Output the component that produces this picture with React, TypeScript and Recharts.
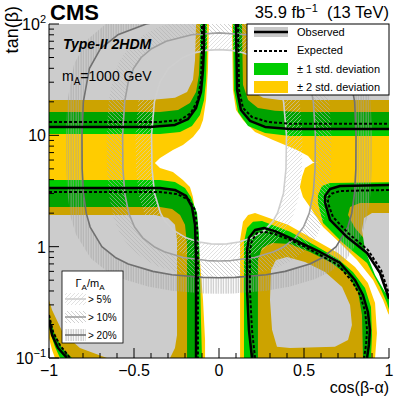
import React from 'react';
import { ComposedChart, Area, Line, XAxis, YAxis } from 'recharts';

const FONT = '"Liberation Sans", Arial, Helvetica, sans-serif';
const YELLOW = '#ffcc00';
const GREEN = '#00cc00';
const WHITE = '#ffffff';

// ---------- axes ----------
const xTicks = [-1, -0.9, -0.8, -0.7, -0.6, -0.5, -0.4, -0.3, -0.2, -0.1, 0, 0.1, 0.2, 0.3, 0.4, 0.5, 0.6, 0.7, 0.8, 0.9, 1];
const xTickLabels = [
  { v: -1, t: '\u22121' },
  { v: -0.5, t: '\u22120.5' },
  { v: 0, t: '0' },
  { v: 0.5, t: '0.5' },
  { v: 1, t: '1' },
];
const yTicks = [0.1, 0.2, 0.3, 0.4, 0.5, 0.6, 0.7, 0.8, 0.9, 1, 2, 3, 4, 5, 6, 7, 8, 9, 10, 20, 30, 40, 50, 60, 70, 80, 90, 100];
const yTickLabels = [
  { v: 0.1, base: '10', exp: '\u22121' },
  { v: 1, base: '1', exp: '' },
  { v: 10, base: '10', exp: '' },
  { v: 100, base: '10', exp: '2' },
];

// ---------- expected +-2 sigma band (outer edges, yellow) ----------
const ulYellowOuter = [[-1.2, 5.65], [-0.377, 5.65], [-0.347, 6.27], [-0.271, 7.39], [-0.212, 8.2], [-0.153, 9.68], [-0.112, 11.6], [-0.094, 13.7], [-0.076, 20.8], [-0.065, 38.7], [-0.059, 100], [-0.059, 300], [-1.2, 300], [-1.2, 5.65]];
const llYellowOuter = [[-1.2, 6.01], [-0.377, 5.65], [-0.347, 5.09], [-0.271, 4.69], [-0.212, 3.97], [-0.171, 3.44], [-0.153, 2.8], [-0.141, 2.01], [-0.129, 1.41], [-0.112, 0.759], [-0.094, 0.332], [-0.082, 0.145], [-0.082, 0.05], [-0.965, 0.05], [-0.965, 0.1], [-0.982, 0.118], [-1, 0.151], [-1.2, 0.151], [-1.2, 6.01]];
const urYellowOuter = [[0.076, 300], [0.076, 100], [0.082, 25.6], [0.1, 16.9], [0.141, 13.7], [0.212, 10.7], [0.318, 9.09], [0.459, 7.39], [0.524, 6.53], [0.553, 5.77], [0.653, 5.42], [1.2, 5.42], [1.2, 300], [0.076, 300]];
const lrYellowOuter = [[1.2, 6.01], [0.594, 5.77], [0.553, 5.65], [0.506, 5.09], [0.488, 4.23], [0.476, 3.44], [0.494, 2.8], [0.535, 2.27], [0.612, 1.5], [0.712, 1.08], [0.812, 0.759], [0.906, 0.502], [0.965, 0.332], [0.994, 0.254], [1.018, 0.219], [1.2, 0.145], [1.2, 6.01]];
const loopYellowOuter = [[0.124, 0.05], [0.124, 1.15], [0.141, 1.67], [0.171, 1.93], [0.212, 2.01], [0.406, 1.57], [0.565, 1.15], [0.7, 0.877], [0.8, 0.657], [0.876, 0.472], [0.918, 0.312], [0.929, 0.168], [0.918, 0.1], [0.918, 0.05], [0.124, 0.05]];

// ---------- expected +-1 sigma band (outer edges, green) ----------
const ulGreenOuter = [[-1.2, 10.3], [-0.347, 10.3], [-0.229, 10.7], [-0.159, 12.1], [-0.112, 15.2], [-0.088, 20.8], [-0.076, 31.5], [-0.071, 58.5], [-0.071, 300], [-1.2, 300], [-1.2, 10.3]];
const llGreenOuter = [[-1.2, 3.97], [-0.347, 3.97], [-0.259, 3.81], [-0.2, 3.37], [-0.165, 2.8], [-0.129, 2.01], [-0.118, 1.27], [-0.112, 0.618], [-0.106, 0.219], [-0.1, 0.1], [-0.1, 0.05], [-0.935, 0.05], [-0.935, 0.1], [-0.965, 0.126], [-0.988, 0.161], [-1, 0.19], [-1.2, 0.19], [-1.2, 3.97]];
const urGreenOuter = [[0.082, 300], [0.082, 100], [0.088, 25.6], [0.112, 16.2], [0.171, 12.1], [0.271, 10.5], [0.418, 9.88], [1.2, 9.88], [1.2, 300], [0.082, 300]];
const lrGreenOuter = [[1.2, 3.81], [0.653, 3.73], [0.606, 3.51], [0.582, 2.91], [0.582, 2.47], [0.612, 1.63], [0.729, 1.08], [0.871, 0.714], [0.947, 0.435], [0.988, 0.312], [1.006, 0.254], [1.2, 0.219], [1.2, 3.81]];
const loopGreenOuter = [[0.147, 0.05], [0.147, 1.1], [0.165, 1.47], [0.2, 1.67], [0.253, 1.7], [0.418, 1.36], [0.571, 1.015], [0.7, 0.775], [0.788, 0.593], [0.859, 0.426], [0.894, 0.287], [0.9, 0.161], [0.894, 0.1], [0.894, 0.05], [0.147, 0.05]];

// ---------- expected +-1 sigma band (inner edges) ----------
const ulGreenInner = [[-1.2, 16.2], [-0.347, 16.2], [-0.241, 16.9], [-0.171, 19.5], [-0.135, 24.5], [-0.118, 34.9], [-0.112, 58.5], [-0.112, 300], [-1.2, 300], [-1.2, 16.2]];
const llGreenInner = [[-1.2, 2.27], [-0.347, 2.27], [-0.276, 2.18], [-0.229, 1.93], [-0.2, 1.57], [-0.188, 1.04], [-0.188, 0.05], [-0.865, 0.05], [-0.865, 0.1], [-0.924, 0.123], [-0.965, 0.161], [-0.988, 0.21], [-1, 0.238], [-1.2, 0.238], [-1.2, 2.27]];
const urGreenInner = [[0.135, 300], [0.135, 100], [0.141, 28.4], [0.171, 20.8], [0.229, 17.6], [0.329, 16.6], [0.476, 16.2], [1.2, 16.2], [1.2, 300], [0.135, 300]];
const lrGreenInner = [[1.2, 2.47], [0.829, 2.47], [0.771, 2.27], [0.759, 1.93], [0.8, 1.47], [0.876, 1.08], [0.935, 0.759], [0.976, 0.502], [1, 0.346], [1.2, 0.27], [1.2, 2.47]];
const loopGreenInner = [[0.229, 0.05], [0.229, 0.759], [0.253, 0.974], [0.312, 1.08], [0.418, 1.057], [0.535, 0.896], [0.653, 0.728], [0.759, 0.557], [0.818, 0.392], [0.841, 0.243], [0.847, 0.1], [0.847, 0.05], [0.229, 0.05]];

// ---------- expected +-2 sigma band (inner edges) ----------
const ulYellowInner = [[-1.2, 20.8], [-0.406, 20.8], [-0.259, 21.7], [-0.188, 24.5], [-0.153, 31.5], [-0.141, 47.6], [-0.135, 100], [-0.135, 300], [-1.2, 300], [-1.2, 20.8]];
const llYellowInner = [[-1.2, 1.93], [-0.376, 1.93], [-0.3, 1.81], [-0.259, 1.57], [-0.247, 1.15], [-0.247, 0.161], [-0.259, 0.123], [-0.288, 0.1], [-0.288, 0.05], [-0.659, 0.05], [-0.659, 0.1], [-0.818, 0.123], [-0.918, 0.168], [-0.982, 0.27], [-1, 0.332], [-1.2, 0.332], [-1.2, 1.93]];
const urYellowInner = [[0.165, 300], [0.165, 100], [0.171, 31.5], [0.2, 24.5], [0.259, 21.7], [0.359, 20.8], [1.2, 20.8], [1.2, 300], [0.165, 300]];
const lrYellowInner = [[1.2, 2.01], [0.9, 2.01], [0.853, 1.81], [0.841, 1.41], [0.859, 0.934], [0.918, 0.557], [0.976, 0.392], [1.006, 0.353], [1.2, 0.332], [1.2, 2.01]];
const loopYellowInner = [[0.341, 0.126], [0.312, 0.179], [0.3, 0.332], [0.306, 0.618], [0.335, 0.759], [0.4, 0.807], [0.506, 0.728], [0.624, 0.593], [0.724, 0.435], [0.771, 0.299], [0.782, 0.198], [0.759, 0.145], [0.682, 0.126], [0.418, 0.123], [0.341, 0.126]];

// ---------- observed excluded regions ----------
const ulObsRegion = [[-1.2, 11.9], [-0.406, 11.9], [-0.259, 12.4], [-0.182, 14.0], [-0.135, 17.6], [-0.106, 24.5], [-0.094, 38.7], [-0.088, 64.9], [-0.088, 300], [-1.2, 300], [-1.2, 11.9]];
const llObsRegion = [[-1.2, 3.37], [-0.347, 3.37], [-0.259, 3.23], [-0.194, 2.86], [-0.159, 2.27], [-0.141, 1.57], [-0.135, 0.759], [-0.135, 0.05], [-0.894, 0.05], [-0.894, 0.1], [-0.947, 0.123], [-0.982, 0.161], [-1, 0.219], [-1.2, 0.219], [-1.2, 3.37]];
const urObsRegion = [[0.1, 300], [0.1, 100], [0.106, 25.6], [0.129, 16.9], [0.182, 13.5], [0.271, 11.9], [0.418, 11.4], [1.2, 11.4], [1.2, 300], [0.1, 300]];
const lrObsRegion = [[1.2, 3.58], [0.712, 3.51], [0.653, 3.3], [0.624, 2.86], [0.624, 2.47], [0.653, 1.74], [0.753, 1.22], [0.871, 0.877], [0.947, 0.58], [0.988, 0.384], [1.006, 0.312], [1.2, 0.27], [1.2, 3.58]];
const loopObsRegion = [[0.194, 0.05], [0.194, 0.1], [0.176, 0.179], [0.165, 0.408], [0.165, 0.934], [0.176, 1.2], [0.212, 1.41], [0.265, 1.47], [0.329, 1.38], [0.418, 1.2], [0.506, 1.036], [0.594, 0.896], [0.712, 0.714], [0.8, 0.502], [0.847, 0.368], [0.876, 0.259], [0.888, 0.179], [0.882, 0.131], [0.871, 0.1], [0.871, 0.05], [0.194, 0.05]];

// ---------- observed contours ----------
const ulObsLine = [[-1, 11.9], [-0.406, 11.9], [-0.259, 12.4], [-0.182, 14.0], [-0.135, 17.6], [-0.106, 24.5], [-0.094, 38.7], [-0.088, 64.9], [-0.088, 100]];
const llObsLine = [[-1, 3.37], [-0.347, 3.37], [-0.259, 3.23], [-0.194, 2.86], [-0.159, 2.27], [-0.141, 1.57], [-0.135, 0.759], [-0.135, 0.1]];
const llObsCorner = [[-1, 0.219], [-0.982, 0.161], [-0.947, 0.123], [-0.894, 0.1]];
const urObsLine = [[0.1, 100], [0.106, 25.6], [0.129, 16.9], [0.182, 13.5], [0.271, 11.9], [0.418, 11.4], [1, 11.4]];
const lrObsLine = [[1, 3.58], [0.712, 3.51], [0.653, 3.3], [0.624, 2.86], [0.624, 2.47], [0.653, 1.74], [0.753, 1.22], [0.871, 0.877], [0.947, 0.58], [0.988, 0.384], [1, 0.34]];
const loopObsLine = [[0.194, 0.1], [0.176, 0.179], [0.165, 0.408], [0.165, 0.934], [0.176, 1.2], [0.212, 1.41], [0.265, 1.47], [0.329, 1.38], [0.418, 1.2], [0.506, 1.036], [0.594, 0.896], [0.712, 0.714], [0.8, 0.502], [0.847, 0.368], [0.876, 0.259], [0.888, 0.179], [0.882, 0.131], [0.871, 0.1]];

// ---------- expected contours ----------
const ulExpLine = [[-1, 13.2], [-0.347, 13.2], [-0.229, 13.7], [-0.165, 15.9], [-0.124, 20.8], [-0.106, 31.5], [-0.1, 58.5], [-0.1, 100]];
const llExpLine = [[-1, 3.1], [-0.347, 3.1], [-0.247, 2.97], [-0.176, 2.63], [-0.141, 2.14], [-0.129, 1.5], [-0.124, 0.759], [-0.124, 0.1]];
const llExpCorner = [[-1, 0.243], [-0.976, 0.171], [-0.935, 0.13], [-0.876, 0.1]];
const urExpLine = [[0.112, 100], [0.118, 25.6], [0.141, 17.6], [0.194, 14.6], [0.288, 13.2], [0.418, 12.7], [1, 12.7]];
const lrExpLine = [[1, 3.23], [0.712, 3.16], [0.665, 3.0], [0.641, 2.74], [0.641, 2.47], [0.67, 1.85], [0.765, 1.3], [0.876, 0.934], [0.953, 0.618], [0.994, 0.4], [1, 0.37]];
const loopExpLine = [[0.212, 0.1], [0.194, 0.179], [0.182, 0.408], [0.182, 0.934], [0.194, 1.14], [0.224, 1.33], [0.265, 1.36], [0.329, 1.3], [0.418, 1.15], [0.506, 0.994], [0.594, 0.842], [0.7, 0.685], [0.782, 0.492], [0.829, 0.368], [0.859, 0.265], [0.871, 0.179], [0.865, 0.131], [0.853, 0.1]];

// ---------- Gamma_A / m_A contours (5%, 10%, 20%) ----------
const width5 = [[0, 1.053], [0.047, 1.06], [0.117, 1.1], [0.194, 1.2], [0.267, 1.4], [0.318, 1.7], [0.344, 2], [0.379, 3], [0.394, 5], [0.397, 10], [0.38, 20], [0.348, 30], [0.297, 40], [0.214, 50], [0.145, 55], [0.072, 58], [0, 58.9], [-0.072, 58], [-0.145, 55], [-0.214, 50], [-0.297, 40], [-0.348, 30], [-0.38, 20], [-0.397, 10], [-0.394, 5], [-0.379, 3], [-0.344, 2], [-0.318, 1.7], [-0.267, 1.4], [-0.194, 1.2], [-0.117, 1.1], [-0.047, 1.06], [0, 1.053]];
const width10 = [[0, 0.744], [0.07, 0.75], [0.21, 0.8], [0.322, 0.9], [0.382, 1], [0.449, 1.2], [0.497, 1.5], [0.531, 2], [0.554, 3], [0.565, 5], [0.567, 10], [0.555, 20], [0.534, 30], [0.502, 40], [0.458, 50], [0.397, 60], [0.311, 70], [0.16, 80], [0, 83.3], [-0.16, 80], [-0.311, 70], [-0.397, 60], [-0.458, 50], [-0.502, 40], [-0.534, 30], [-0.555, 20], [-0.567, 10], [-0.565, 5], [-0.554, 3], [-0.531, 2], [-0.497, 1.5], [-0.449, 1.2], [-0.382, 1], [-0.322, 0.9], [-0.21, 0.8], [-0.07, 0.75], [0, 0.744]];
const width20 = [[0, 0.526], [0.095, 0.53], [0.277, 0.56], [0.389, 0.6], [0.534, 0.7], [0.61, 0.8], [0.689, 1], [0.758, 1.5], [0.781, 2], [0.797, 3], [0.805, 5], [0.806, 10], [0.798, 20], [0.762, 40], [0.697, 60], [0.595, 80], [0.428, 100], [0.291, 110], [0, 117.9], [-0.291, 110], [-0.428, 100], [-0.595, 80], [-0.697, 60], [-0.762, 40], [-0.798, 20], [-0.806, 10], [-0.805, 5], [-0.797, 3], [-0.781, 2], [-0.758, 1.5], [-0.689, 1], [-0.61, 0.8], [-0.534, 0.7], [-0.389, 0.6], [-0.277, 0.56], [-0.095, 0.53], [0, 0.526]];
// centre line of the hatched (larger-width) side of each contour
const width5Hatch = [[0, 0.892], [0.047, 0.898], [0.124, 0.935], [0.209, 1.026], [0.291, 1.213], [0.352, 1.52], [0.385, 1.85], [0.425, 2.95], [0.441, 5], [0.444, 10], [0.427, 20.3], [0.393, 31.4], [0.337, 43.6], [0.243, 57], [0.163, 64.2], [0.081, 68.1], [0, 69.5], [-0.081, 68.1], [-0.163, 64.2], [-0.243, 57], [-0.337, 43.6], [-0.393, 31.4], [-0.427, 20.3], [-0.444, 10], [-0.441, 5], [-0.425, 2.95], [-0.385, 1.85], [-0.352, 1.52], [-0.291, 1.213], [-0.209, 1.026], [-0.124, 0.935], [-0.047, 0.898], [0, 0.892]];
const width10Hatch = [[0, 0.63], [0.07, 0.636], [0.216, 0.68], [0.336, 0.77], [0.403, 0.863], [0.478, 1.053], [0.535, 1.358], [0.574, 1.88], [0.6, 2.95], [0.612, 5], [0.614, 10], [0.602, 20], [0.58, 30.6], [0.546, 42.5], [0.497, 55], [0.428, 68], [0.333, 81], [0.172, 94], [0, 98.3], [-0.172, 94], [-0.333, 81], [-0.428, 68], [-0.497, 55], [-0.546, 42.5], [-0.58, 30.6], [-0.602, 20], [-0.614, 10], [-0.612, 5], [-0.6, 2.95], [-0.574, 1.88], [-0.535, 1.358], [-0.478, 1.053], [-0.403, 0.863], [-0.336, 0.77], [-0.216, 0.68], [-0.07, 0.636], [0, 0.63]];
const width20Hatch = [[0, 0.446], [0.095, 0.449], [0.277, 0.475], [0.395, 0.51], [0.548, 0.597], [0.631, 0.688], [0.719, 0.879], [0.798, 1.377], [0.826, 1.9], [0.844, 3], [0.852, 5], [0.853, 10], [0.845, 20], [0.808, 41.2], [0.738, 65], [0.625, 91], [0.445, 117], [0.3, 130], [0, 139], [-0.3, 130], [-0.445, 117], [-0.625, 91], [-0.738, 65], [-0.808, 41.2], [-0.845, 20], [-0.853, 10], [-0.852, 5], [-0.844, 3], [-0.826, 1.9], [-0.798, 1.377], [-0.719, 0.879], [-0.631, 0.688], [-0.548, 0.597], [-0.395, 0.51], [-0.277, 0.475], [-0.095, 0.449], [0, 0.446]];

// ---------- legend texts ----------
const legendEntries = ['Observed', 'Expected', '\u00b1 1 std. deviation', '\u00b1 2 std. deviation'];
const widthLegend = ['> 5%', '> 10%', '> 20%'];

const toPts = (a: number[][]) => a.map(([x, y]) => ({ x, y }));

type FillLayer = { key: string; d: number[][]; fill: string; op: number };
const fillLayers: FillLayer[] = [
  ...[ulYellowOuter, llYellowOuter, urYellowOuter, lrYellowOuter, loopYellowOuter].map((d, i) => ({ key: 'y2o' + i, d, fill: YELLOW, op: 1 })),
  ...[ulGreenOuter, llGreenOuter, urGreenOuter, lrGreenOuter, loopGreenOuter].map((d, i) => ({ key: 'g1o' + i, d, fill: GREEN, op: 1 })),
  ...[ulGreenInner, llGreenInner, urGreenInner, lrGreenInner, loopGreenInner].map((d, i) => ({ key: 'g1i' + i, d, fill: YELLOW, op: 1 })),
  ...[ulYellowInner, llYellowInner, urYellowInner, lrYellowInner, loopYellowInner].map((d, i) => ({ key: 'y2i' + i, d, fill: WHITE, op: 1 })),
  ...[ulObsRegion, llObsRegion, urObsRegion, lrObsRegion, loopObsRegion].map((d, i) => ({ key: 'obs' + i, d, fill: '#000000', op: 0.2 })),
];

type LineLayer = { key: string; d: number[][]; stroke: string; w: number; dash?: string };
const lineLayers: LineLayer[] = [
  { key: 'h20', d: width20Hatch, stroke: 'url(#hatch20)', w: 16 },
  { key: 'h10', d: width10Hatch, stroke: 'url(#hatch10)', w: 16 },
  { key: 'h5', d: width5Hatch, stroke: 'url(#hatch5)', w: 16 },
  { key: 'w20', d: width20, stroke: '#707070', w: 1.6 },
  { key: 'w10', d: width10, stroke: '#a0a0a0', w: 1.6 },
  { key: 'w5', d: width5, stroke: '#cfcfcf', w: 1.6 },
  ...[ulExpLine, llExpLine, llExpCorner, urExpLine, lrExpLine, loopExpLine].map((d, i) => ({ key: 'exp' + i, d, stroke: '#000', w: 2, dash: '3 2' })),
  ...[ulObsLine, llObsLine, llObsCorner, urObsLine, lrObsLine, loopObsLine].map((d, i) => ({ key: 'ob' + i, d, stroke: '#000', w: 2.5 })),
];

const isMajorX = (v: number) => Math.abs(v * 2 - Math.round(v * 2)) < 1e-6;
const isMajorY = (v: number) => Math.abs(Math.log10(v) - Math.round(Math.log10(v))) < 1e-6;

const BottomTick = (p: any) => {
  const { x, y, payload } = p;
  const v = payload.value;
  const lab = xTickLabels.find((t) => Math.abs(t.v - v) < 1e-6);
  return (
    <g>
      <line x1={x} x2={x} y1={y} y2={y - (isMajorX(v) ? 10 : 5)} stroke="#000" strokeWidth={1} />
      {lab && (
        <text x={x} y={y + 18} textAnchor="middle" fontSize={16} fontFamily={FONT} fill="#000">
          {lab.t}
        </text>
      )}
    </g>
  );
};
const TopTick = (p: any) => {
  const { x, y, payload } = p;
  const v = payload.value;
  return <line x1={x} x2={x} y1={y} y2={y + (isMajorX(v) ? 10 : 5)} stroke="#000" strokeWidth={1} />;
};
const LeftTick = (p: any) => {
  const { x, y, payload } = p;
  const v = payload.value;
  const lab = yTickLabels.find((t) => Math.abs(t.v - v) < 1e-9);
  return (
    <g>
      <line x1={x} x2={x + (isMajorY(v) ? 10 : 5)} y1={y} y2={y} stroke="#000" strokeWidth={1} />
      {lab && (
        <text x={x - 3} y={y + 6} textAnchor="end" fontSize={16} fontFamily={FONT} fill="#000">
          {lab.base}
          {lab.exp && (
            <tspan dy={-7} fontSize={11}>
              {lab.exp}
            </tspan>
          )}
        </text>
      )}
    </g>
  );
};
const RightTick = (p: any) => {
  const { x, y, payload } = p;
  const v = payload.value;
  return <line x1={x} x2={x - (isMajorY(v) ? 10 : 5)} y1={y} y2={y} stroke="#000" strokeWidth={1} />;
};

export default function App() {
  return (
    <div style={{ position: 'absolute', left: 0, top: 0, width: 411, height: 399, background: '#fff' }}>
      <svg width={0} height={0} style={{ position: 'absolute' }}>
        <defs>
          <pattern id="hatch5" patternUnits="userSpaceOnUse" width={4} height={4}>
            <path d="M-1,1 l2,-2 M0,4 l4,-4 M3,5 l2,-2" stroke="#cdcdcd" strokeWidth={0.6} />
          </pattern>
          <pattern id="hatch10" patternUnits="userSpaceOnUse" width={4} height={4}>
            <path d="M-1,3 l2,2 M0,0 l4,4 M3,-1 l2,2" stroke="#b4b4b4" strokeWidth={0.6} />
          </pattern>
          <pattern id="hatch20" patternUnits="userSpaceOnUse" width={2.5} height={4}>
            <line x1={1} y1={0} x2={1} y2={4} stroke="#a2a2a2" strokeWidth={0.8} />
          </pattern>
        </defs>
      </svg>
      <ComposedChart width={411} height={399} margin={{ top: 24, right: 22, bottom: 0, left: 0 }}>
        {fillLayers.map((l) => (
          <Area
            key={l.key}
            data={toPts(l.d)}
            dataKey="y"
            type="linear"
            fill={l.fill}
            fillOpacity={l.op}
            stroke="none"
            baseValue={1}
            dot={false}
            activeDot={false}
            isAnimationActive={false}
          />
        ))}
        {lineLayers.map((l) => (
          <Line
            key={l.key}
            data={toPts(l.d)}
            dataKey="y"
            type="linear"
            stroke={l.stroke}
            strokeWidth={l.w}
            strokeDasharray={l.dash}
            strokeLinejoin="round"
            dot={false}
            activeDot={false}
            isAnimationActive={false}
          />
        ))}
        <XAxis
          dataKey="x"
          type="number"
          domain={[-1, 1]}
          allowDataOverflow
          ticks={xTicks}
          interval={0}
          tick={BottomTick}
          tickLine={false}
          tickSize={0}
          tickMargin={0}
          height={41}
          axisLine={{ stroke: '#000', strokeWidth: 1 }}
        />
        <XAxis
          xAxisId="top"
          orientation="top"
          dataKey="x"
          type="number"
          domain={[-1, 1]}
          allowDataOverflow
          ticks={xTicks}
          interval={0}
          tick={TopTick}
          tickLine={false}
          tickSize={0}
          tickMargin={0}
          height={0}
          axisLine={{ stroke: '#000', strokeWidth: 1 }}
        />
        <YAxis
          type="number"
          scale="log"
          domain={[0.1, 100]}
          allowDataOverflow
          ticks={yTicks}
          interval={0}
          tick={LeftTick}
          tickLine={false}
          tickSize={0}
          tickMargin={0}
          width={49}
          axisLine={{ stroke: '#000', strokeWidth: 1 }}
        />
        <YAxis
          yAxisId="right"
          orientation="right"
          type="number"
          scale="log"
          domain={[0.1, 100]}
          allowDataOverflow
          ticks={yTicks}
          interval={0}
          tick={RightTick}
          tickLine={false}
          tickSize={0}
          tickMargin={0}
          width={0}
          axisLine={{ stroke: '#000', strokeWidth: 1 }}
        />
      </ComposedChart>
      <svg
        width={411}
        height={399}
        style={{ position: 'absolute', left: 0, top: 0, pointerEvents: 'none' }}
        fontFamily={FONT}
      >
        <text x={50} y={20} fontSize={22} fontWeight="bold" fill="#000">CMS</text>
        <text x={389} y={18} fontSize={16.5} textAnchor="end" fill="#000">
          35.9 fb<tspan dy={-6} fontSize={11}>{'\u22121'}</tspan>
          <tspan dy={6}>{'\u00a0\u00a0(13 TeV)'}</tspan>
        </text>
        <text x={63} y={49} fontSize={14} fontWeight="bold" fontStyle="italic" fill="#000">Type-II 2HDM</text>
        <text x={62} y={81} fontSize={14} fill="#000">
          m<tspan dy={4} fontSize={10}>A</tspan>
          <tspan dy={-4}>=1000 GeV</tspan>
        </text>
        <text x={18} y={6} fontSize={18} textAnchor="end" transform="rotate(-90, 18, 6)" fill="#000">tan(β)</text>
        <text x={389} y={393} fontSize={16} textAnchor="end" fill="#000">cos(β-α)</text>

        {/* top-right legend */}
        <rect x={247} y={24} width={142} height={71} fill="#fff" stroke="#000" strokeWidth={1} />
        <rect x={254} y={27} width={34} height={10} fill="#c8c8c8" />
        <line x1={254} x2={288} y1={32} y2={32} stroke="#000" strokeWidth={2.5} />
        <line x1={254} x2={288} y1={51} y2={51} stroke="#000" strokeWidth={2} strokeDasharray="3 2" />
        <rect x={254} y={63} width={34} height={12} fill={GREEN} />
        <rect x={254} y={81} width={34} height={12} fill={YELLOW} />
        {legendEntries.map((t, i) => (
          <text key={t} x={297} y={36 + i * 18.3} fontSize={11} fill="#000">{t}</text>
        ))}

        {/* width legend */}
        <rect x={62} y={271} width={61} height={72} fill="#fff" stroke="#000" strokeWidth={0.8} />
        <text x={90} y={287} fontSize={11} textAnchor="middle" fill="#000">
          Γ<tspan dy={3} fontSize={8}>A</tspan>
          <tspan dy={-3}>/m</tspan>
          <tspan dy={3} fontSize={8}>A</tspan>
        </text>
        {widthLegend.map((t, i) => {
          const cy = 299 + i * 18;
          const pat = ['url(#hatch5)', 'url(#hatch10)', 'url(#hatch20)'][i];
          const col = ['#cfcfcf', '#a0a0a0', '#707070'][i];
          return (
            <g key={t}>
              <rect x={65} y={cy - 6} width={21} height={12} fill={pat} />
              <line x1={65} x2={86} y1={cy} y2={cy} stroke={col} strokeWidth={1.6} />
              <text x={88} y={cy + 4} fontSize={10} fill="#000">{t}</text>
            </g>
          );
        })}
      </svg>
    </div>
  );
}
